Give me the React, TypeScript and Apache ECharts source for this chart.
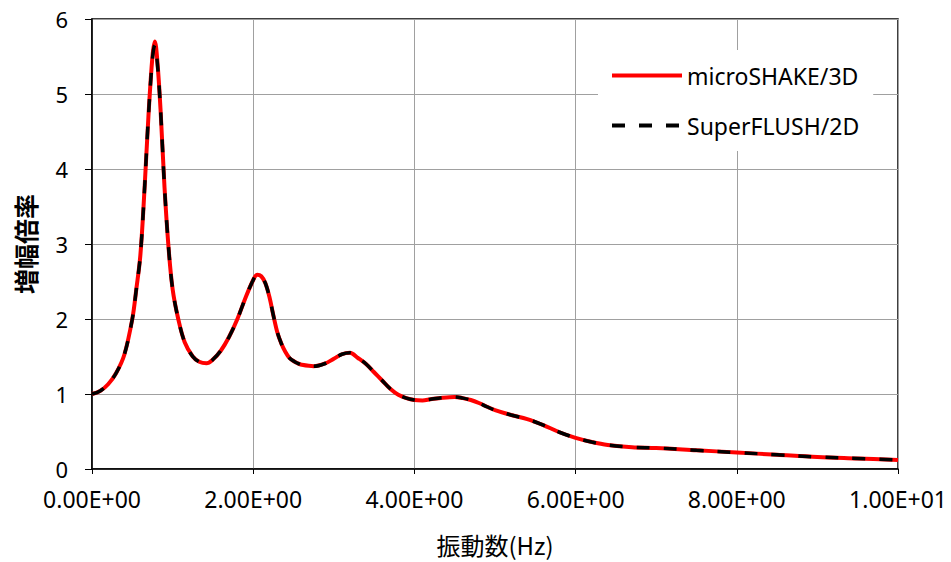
import React, { useEffect, useRef } from "react";
import * as echarts from "echarts";

const freq = [0, 0.1, 0.2, 0.3, 0.4, 0.5, 0.55, 0.6, 0.65, 0.7, 0.75, 0.78, 0.81, 0.85, 0.9, 0.95, 1.0, 1.07, 1.15, 1.25, 1.33, 1.42, 1.5, 1.6, 1.7, 1.8, 1.9, 2.0, 2.05, 2.1, 2.15, 2.2, 2.25, 2.3, 2.35, 2.4, 2.45, 2.5, 2.55, 2.6, 2.75, 2.9, 3.0, 3.1, 3.2, 3.3, 3.4, 3.5, 3.6, 3.7, 3.8, 3.9, 4.0, 4.1, 4.2, 4.35, 4.5, 4.6, 4.7, 4.8, 4.9, 5.0, 5.2, 5.4, 5.6, 5.8, 6.0, 6.2, 6.4, 6.7, 7.0, 7.5, 8.0, 8.5, 9.0, 9.5, 10.0];

const microShake = [1.0, 1.04, 1.13, 1.28, 1.52, 2.0, 2.4, 2.85, 3.7, 4.7, 5.5, 5.7, 5.45, 4.8, 3.75, 2.95, 2.4, 2.0, 1.69, 1.5, 1.43, 1.41, 1.46, 1.58, 1.76, 1.99, 2.27, 2.52, 2.59, 2.57, 2.48, 2.3, 2.05, 1.82, 1.67, 1.56, 1.48, 1.44, 1.41, 1.39, 1.37, 1.41, 1.47, 1.53, 1.55, 1.48, 1.4, 1.29, 1.18, 1.07, 0.99, 0.945, 0.92, 0.915, 0.93, 0.95, 0.96, 0.945, 0.92, 0.88, 0.83, 0.785, 0.72, 0.665, 0.585, 0.49, 0.415, 0.36, 0.32, 0.29, 0.28, 0.25, 0.22, 0.19, 0.16, 0.14, 0.12];

const superFlush = [1.0, 1.04, 1.13, 1.28, 1.52, 2.0, 2.4, 2.85, 3.7, 4.7, 5.47, 5.65, 5.42, 4.8, 3.75, 2.95, 2.4, 2.0, 1.69, 1.5, 1.43, 1.41, 1.46, 1.58, 1.76, 1.99, 2.27, 2.52, 2.59, 2.57, 2.48, 2.3, 2.05, 1.82, 1.67, 1.56, 1.48, 1.44, 1.41, 1.39, 1.37, 1.41, 1.47, 1.53, 1.55, 1.48, 1.4, 1.29, 1.18, 1.07, 0.99, 0.945, 0.92, 0.915, 0.93, 0.95, 0.96, 0.945, 0.92, 0.88, 0.83, 0.785, 0.72, 0.665, 0.585, 0.49, 0.415, 0.36, 0.32, 0.29, 0.28, 0.25, 0.22, 0.19, 0.16, 0.14, 0.12];

const seriesNames = ["microSHAKE/3D", "SuperFLUSH/2D"];
const xAxisName = "振動数(Hz)";
const yAxisName = "増幅倍率";

function sci(v: number): string {
  if (v === 0) return "0.00E+00";
  const e = Math.floor(Math.log10(Math.abs(v)) + 1e-9);
  const m = v / Math.pow(10, e);
  return m.toFixed(2) + "E" + (e < 0 ? "-" : "+") + String(Math.abs(e)).padStart(2, "0");
}

const FONT = "'Noto Sans', 'Liberation Sans', sans-serif";
const CJK = "'Noto Sans CJK JP', 'Noto Sans', sans-serif";

export default function App() {
  const ref = useRef<HTMLDivElement>(null);
  useEffect(() => {
    document.body.style.margin = "0";
    if (!ref.current) return;
    const chart = echarts.init(ref.current, null, { renderer: "svg" });
    chart.setOption({
      animation: false,
      backgroundColor: "#ffffff",
      grid: {
        left: 92,
        right: 53,
        top: 19,
        bottom: 93,
        show: true,
        borderColor: "#000000",
        borderWidth: 1.5,
        backgroundColor: "transparent",
      },
      legend: {
        orient: "vertical",
        left: 598,
        top: 50,
        padding: [14, 14, 14, 12],
        backgroundColor: "#ffffff",
        itemWidth: 70,
        itemHeight: 14,
        itemGap: 27,
        textStyle: { fontFamily: FONT, fontSize: 23, color: "#000000" },
        data: [
          {
            name: seriesNames[0],
            itemStyle: { opacity: 0 },
            lineStyle: { color: "#ff0000", width: 4, type: "solid" },
          },
          {
            name: seriesNames[1],
            itemStyle: { opacity: 0 },
            lineStyle: { color: "#000000", width: 4, type: [13, 14] },
          },
        ],
      },
      xAxis: {
        type: "value",
        min: 0,
        max: 10,
        interval: 2,
        name: xAxisName,
        nameLocation: "middle",
        nameGap: 63,
        nameTextStyle: { fontFamily: CJK, fontSize: 24, color: "#000000" },
        axisLine: { show: true, lineStyle: { color: "#000000", width: 1.5 } },
        axisTick: { show: true, length: 5, lineStyle: { color: "#000000", width: 1 } },
        axisLabel: {
          formatter: (v: number) => sci(v),
          fontFamily: FONT,
          fontSize: 23,
          color: "#000000",
          margin: 18,
        },
        splitLine: { show: true, lineStyle: { color: "#a0a0a0", width: 1 } },
      },
      yAxis: {
        type: "value",
        min: 0,
        max: 6,
        interval: 1,
        name: yAxisName,
        nameLocation: "middle",
        nameGap: 55,
        nameRotate: 90,
        nameTextStyle: { fontFamily: CJK, fontSize: 25, fontWeight: "bold", color: "#000000" },
        axisLine: { show: true, lineStyle: { color: "#000000", width: 1.5 } },
        axisTick: { show: true, length: 7, lineStyle: { color: "#000000", width: 1 } },
        axisLabel: { fontFamily: FONT, fontSize: 22, color: "#000000", margin: 24 },
        splitLine: { show: true, lineStyle: { color: "#a0a0a0", width: 1 } },
      },
      series: [
        {
          name: seriesNames[0],
          type: "line",
          data: freq.map((f, i) => [f, microShake[i]]),
          smooth: 0.35,
          symbol: "none",
          lineStyle: { color: "#ff0000", width: 4 },
          itemStyle: { color: "#ff0000" },
          z: 2,
        },
        {
          name: seriesNames[1],
          type: "line",
          data: freq.map((f, i) => [f, superFlush[i]]),
          smooth: 0.35,
          symbol: "none",
          lineStyle: { color: "#000000", width: 3.5, type: [13, 14] },
          itemStyle: { color: "#000000" },
          z: 3,
        },
      ],
    });
    return () => chart.dispose();
  }, []);
  return <div ref={ref} style={{ width: 951, height: 562 }} />;
}
